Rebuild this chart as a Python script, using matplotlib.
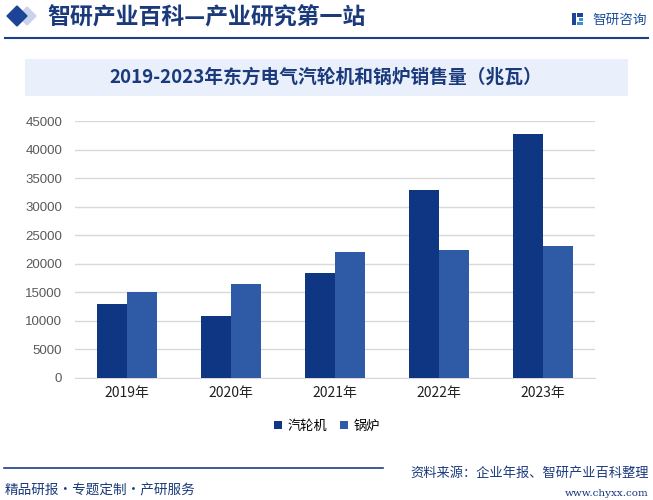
import matplotlib
matplotlib.use("Agg")
import matplotlib.pyplot as plt
import numpy as np
from matplotlib.patches import Polygon, Rectangle
from matplotlib.lines import Line2D

plt.rcParams['font.family'] = ['Noto Sans CJK SC', 'DejaVu Sans']

years = ['2019年', '2020年', '2021年', '2022年', '2023年']
turbine = [12900, 10800, 18400, 32900, 42700]   # 汽轮机
boiler = [15000, 16400, 22000, 22400, 23100]    # 锅炉
yticks = [0, 5000, 10000, 15000, 20000, 25000, 30000, 35000, 40000, 45000]

dark = '#0f3683'
light = '#2f5ba6'
navy = '#1a3a7c'

W, H = 653.0, 500.0


def px(x, y):
    # pixel coords (top-left origin) -> figure fraction
    return [x / W, 1 - y / H]


fig = plt.figure(figsize=(6.53, 5.0), dpi=100)
tf = fig.transFigure

# header: two diamonds
fig.add_artist(Polygon([px(27, 7), px(36, 16), px(27, 25), px(18, 16)], closed=True,
                       transform=tf, color='#c9d4ec', zorder=1))
fig.add_artist(Polygon([px(17, 6), px(27, 16), px(17, 26), px(7, 16)], closed=True,
                       transform=tf, color='#1d4597', zorder=2))
fig.text(*px(47, 18), '智研产业百科—产业研究第一站', fontsize=16.5, fontweight='bold',
         color=navy, va='center', ha='left')

# logo
for (lx, ly, lw, lh, c) in [(572, 13, 4, 12, '#1d4597'), (577, 13, 6, 4, '#1d4597'),
                            (579, 18, 4, 3, '#3a8fd8'), (577, 22, 6, 3, '#3a8fd8')]:
    fig.add_artist(Rectangle(px(lx, ly + lh), lw / W, lh / H, transform=tf,
                             facecolor=c, edgecolor='none'))
fig.text(*px(647, 20), '智研咨询', fontsize=9.8, color='#1d4fa0', va='center', ha='right')
fig.add_artist(Line2D([5 / W, 648 / W], [1 - 38 / H] * 2, transform=tf, color='#1d3f8a', lw=1.5))

# title box
fig.add_artist(Rectangle(px(25, 96), 603 / W, 37 / H, transform=tf,
                         facecolor='#eaf0fb', edgecolor='none'))
fig.text(*px(326, 77), '2019-2023年东方电气汽轮机和锅炉销售量（兆瓦）', fontsize=13.5,
         fontweight='bold', color=navy, ha='center', va='center')

# chart
ax = fig.add_axes([74.6 / W, 122.3 / H, 520.4 / W, 256.7 / H])
x = np.arange(len(years))
w = 0.288
ax.bar(x - w / 2, turbine, w, color=dark, label='汽轮机', zorder=3)
ax.bar(x + w / 2, boiler, w, color=light, label='锅炉', zorder=3)
ax.set_xlim(-0.5, 4.5)
ax.set_ylim(0, 45000)
ax.set_yticks(yticks)
ax.set_yticklabels([str(v) for v in yticks], fontsize=9.5, color='#595959', family='Liberation Sans')
ax.set_xticks(x)
ax.set_xticklabels(years, fontsize=10, color='#222222')
ax.yaxis.grid(True, color='#d9d9d9', lw=1)
ax.set_axisbelow(True)
for s in ['top', 'right', 'left']:
    ax.spines[s].set_visible(False)
ax.spines['bottom'].set_color('#d9d9d9')
ax.tick_params(axis='both', length=0)
ax.tick_params(axis='y', pad=9)
ax.tick_params(axis='x', pad=6)

fig.legend(loc='center', bbox_to_anchor=px(327, 426), ncol=2, frameon=False,
           fontsize=9.5, handlelength=0.6, handleheight=0.6, handletextpad=0.4, columnspacing=1.0)

# footer
fig.add_artist(Line2D([4 / W, 383 / W], [1 - 468 / H] * 2, transform=tf, color='#1d3f8a', lw=1.2))
fig.text(*px(5, 490), '精品研报・专题定制・产研服务', fontsize=9.8, color=navy,
         ha='left', va='center')
fig.text(*px(649, 473), '资料来源：企业年报、智研产业百科整理', fontsize=9.5, color=navy,
         ha='right', va='center')
fig.text(*px(649, 494), 'www.chyxx.com', fontsize=7.5, color=navy, family='DejaVu Serif',
         ha='right', va='center')

fig.savefig('out.png', dpi=100)
